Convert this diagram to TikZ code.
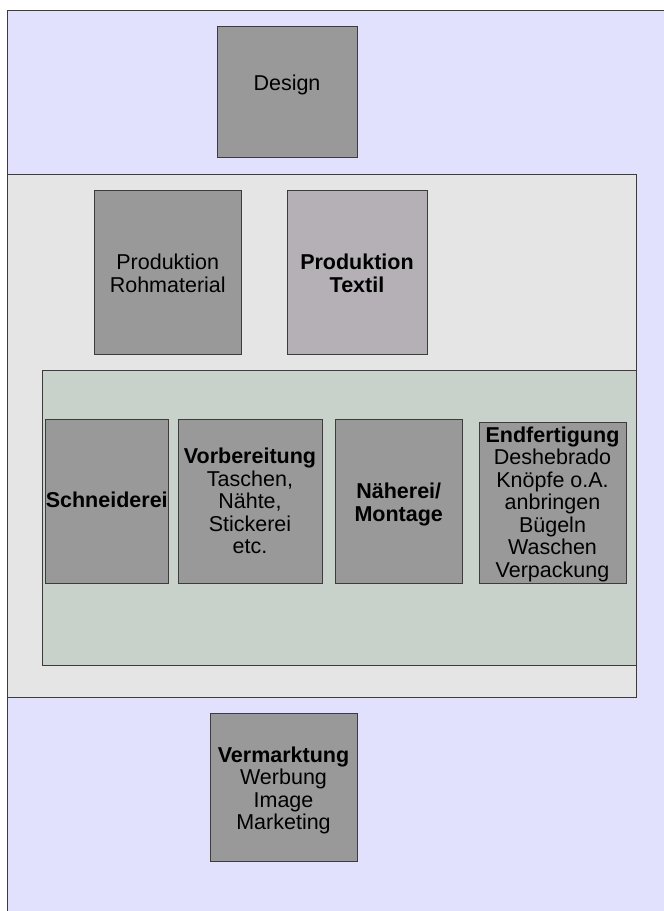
\documentclass[tikz,border=0pt]{standalone}
\usepackage{fontspec}
\setmainfont{Liberation Sans}
\definecolor{lavender}{RGB}{225,225,253}
\definecolor{hallgray}{RGB}{229,229,229}
\definecolor{hallgreen}{RGB}{201,210,202}
\definecolor{boxgray}{RGB}{153,153,153}
\definecolor{textilgray}{RGB}{181,175,182}
\definecolor{edge}{RGB}{60,60,60}
\tikzset{
  box/.style={draw=edge,fill=boxgray,line width=0.8pt,inner sep=0pt},
  lbl/.style={inner sep=0pt,align=center,font=\fontsize{21.5}{22.5}\selectfont}
}
\begin{document}
\begin{tikzpicture}[x=1pt,y=-1pt]
    \useasboundingbox (0,0) rectangle (664,911);
    % areas
    \fill[lavender] (7,10) rectangle (664,911);
    \draw[edge,line width=0.8pt] (7,911)--(7,10)--(664,10);
    \filldraw[draw=edge,fill=hallgray,line width=0.8pt] (7,174) rectangle (636,697);
    \filldraw[draw=edge,fill=hallgreen,line width=0.8pt] (42,370) rectangle (636,665);
    % boxes
    \node[box,minimum width=140,minimum height=131] (design) at (287,91.5) {};
    \node[box,minimum width=147.5,minimum height=164] (rohmat) at (167.75,272) {};
    \node[box,fill=textilgray,minimum width=140,minimum height=164] (textil) at (357,272) {};
    \node[box,minimum width=123.5,minimum height=164] (schneid) at (106.75,501) {};
    \node[box,minimum width=144,minimum height=164] (vorber) at (250,501) {};
    \node[box,minimum width=126.5,minimum height=164] (naeh) at (398.75,501) {};
    \node[box,minimum width=147,minimum height=161] (endf) at (552.5,502.5) {};
    \node[box,minimum width=147,minimum height=148] (verm) at (283.5,787) {};
    % texts
    \node[lbl,anchor=base] (tdesign) at (287,90.7) {Design};
    \node[lbl,anchor=north] (trohmat) at (167.75,254) {Produktion\\Rohmaterial};
    \node[lbl,anchor=north] (ttextil) at (357,254) {\textbf{Produktion}\\\textbf{Textil}};
    \node[lbl,anchor=base] (tschneid) at (106.75,507.7) {\textbf{Schneiderei}};
    \node[lbl,anchor=north] (tvorber) at (250,448) {\textbf{Vorbereitung}\\Taschen,\\Nähte,\\Stickerei\\etc.};
    \node[lbl,anchor=north] (tnaeh) at (398.75,483) {\textbf{Näherei/}\\\textbf{Montage}};
    \node[lbl,anchor=north] (tendf) at (552.5,426.7) {\textbf{Endfertigung}\\Deshebrado\\Knöpfe o.A.\\anbringen\\Bügeln\\Waschen\\Verpackung};
    \node[lbl,anchor=north] (tverm) at (283.5,746.7) {\textbf{Vermarktung}\\Werbung\\Image\\Marketing};
\end{tikzpicture}
\end{document}
